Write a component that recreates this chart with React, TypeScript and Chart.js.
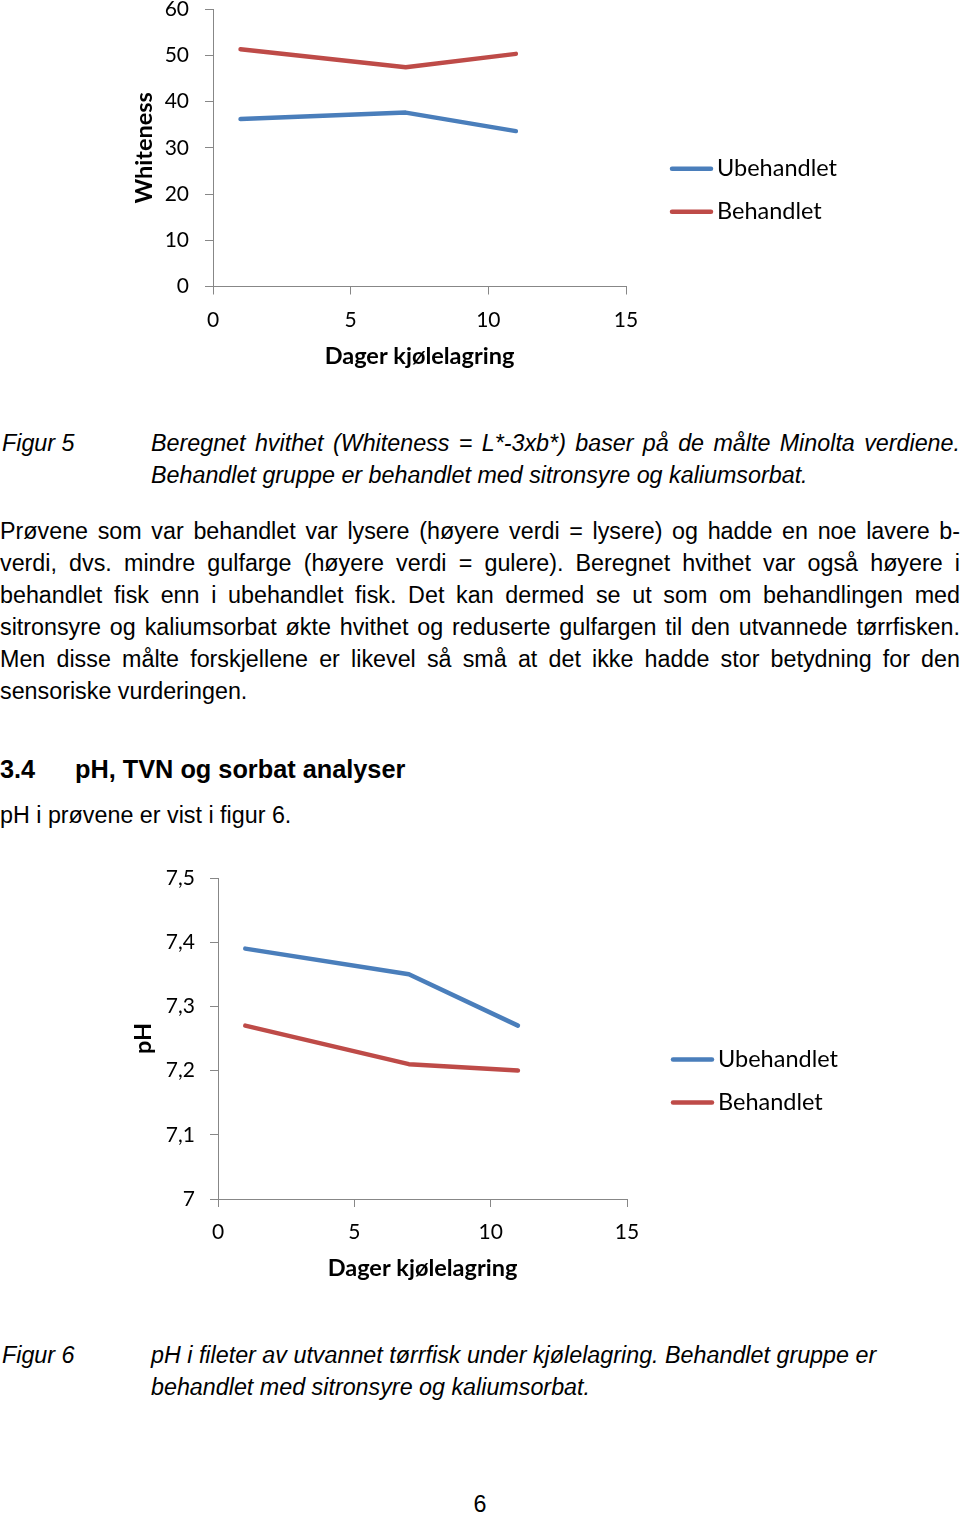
import React, { useEffect, useRef } from "react";
import { Chart, registerables } from "chart.js";

Chart.register(...registerables);

// ---- data ----
const days = [1, 7, 11];
const seriesLabels = ["Ubehandlet", "Behandlet"];
const seriesColors = ["#4A7EBB", "#BE4B48"];
const whitenessUbehandlet = [36.2, 37.6, 33.6];
const whitenessBehandlet = [51.3, 47.4, 50.3];
const phUbehandlet = [7.39, 7.35, 7.27];
const phBehandlet = [7.27, 7.21, 7.2];
const xAxisTitle = "Dager kjølelagring";
const xRange = [0, 15, 5];
const whitenessRange = [0, 60, 10];
const phRange = [7, 7.5, 0.1];

const bodyLines = [
  "Prøvene som var behandlet var lysere (høyere verdi = lysere) og hadde en noe lavere b-",
  "verdi, dvs. mindre gulfarge (høyere verdi = gulere). Beregnet hvithet var også høyere i",
  "behandlet fisk enn i ubehandlet fisk. Det kan dermed se ut som om behandlingen med",
  "sitronsyre og kaliumsorbat økte hvithet og reduserte gulfargen til den utvannede tørrfisken.",
  "Men disse målte forskjellene er likevel så små at det ikke hadde stor betydning for den",
  "sensoriske vurderingen.",
];

const sideLegend = {
  id: "sideLegend",
  afterDraw(chart: any) {
    const { ctx, chartArea } = chart;
    const cy = (chartArea.top + chartArea.bottom) / 2;
    const x0 = chartArea.right + 44;
    chart.data.datasets.forEach((ds: any, i: number) => {
      const y = cy + 21 + i * 43;
      ctx.save();
      ctx.strokeStyle = ds.borderColor;
      ctx.lineWidth = 4.5;
      ctx.lineCap = "round";
      ctx.beginPath();
      ctx.moveTo(x0 + 2, y);
      ctx.lineTo(x0 + 41, y);
      ctx.stroke();
      ctx.fillStyle = "#000";
      ctx.font = "23.5px Lato";
      ctx.textBaseline = "middle";
      ctx.textAlign = "left";
      ctx.fillText(ds.label, x0 + 47, y);
      ctx.restore();
    });
  },
};

type Cfg = {
  height: number;
  plotTop: number;
  plotBottom: number;
  plotLeft: number;
  plotRight: number;
  yRange: number[];
  yTitle: string;
  yTickPad: number;
  yTitleCenter: number;
  series: number[][];
};

function makeConfig(c: Cfg): any {
  const axisColor = "#878787";
  return {
    type: "line",
    data: {
      datasets: c.series.map((vals, i) => ({
        label: seriesLabels[i],
        data: days.map((d, k) => ({ x: d, y: vals[k] })),
        borderColor: seriesColors[i],
        backgroundColor: seriesColors[i],
        borderWidth: 4.5,
        pointRadius: 0,
        borderCapStyle: "round",
        borderJoinStyle: "round",
        tension: 0,
      })),
    },
    plugins: [sideLegend],
    options: {
      animation: false,
      responsive: false,
      devicePixelRatio: 1,
      layout: {
        padding: { left: 0, right: 960 - c.plotRight, top: c.plotTop, bottom: 0 },
      },
      plugins: { legend: { display: false }, tooltip: { enabled: false } },
      scales: {
        x: {
          type: "linear",
          position: "bottom",
          min: xRange[0],
          max: xRange[1],
          afterBuildTicks: (s: any) => {
            const t = [];
            for (let v = xRange[0]; v <= xRange[1]; v += xRange[2]) t.push({ value: v });
            s.ticks = t;
          },
          afterFit: (s: any) => {
            s.height = c.height - c.plotBottom;
            s.paddingLeft = 0;
            s.paddingRight = 0;
            s.paddingTop = 0;
            s.paddingBottom = 0;
          },
          grid: { drawOnChartArea: false, drawTicks: true, tickLength: 8, color: axisColor, lineWidth: 1 },
          border: { display: true, color: axisColor, width: 1 },
          ticks: { color: "#000", font: { family: "Lato", size: 21 }, padding: 13, maxRotation: 0 },
          title: {
            display: true,
            text: xAxisTitle,
            color: "#000",
            font: { family: "Lato", size: 23.5, weight: "bold" },
            padding: { top: 0, bottom: 9 },
          },
        },
        y: {
          type: "linear",
          position: "left",
          min: c.yRange[0],
          max: c.yRange[1],
          afterBuildTicks: (s: any) => {
            const t = [];
            const n = Math.round((c.yRange[1] - c.yRange[0]) / c.yRange[2]);
            for (let k = 0; k <= n; k++) t.push({ value: c.yRange[0] + k * c.yRange[2] });
            s.ticks = t;
          },
          afterFit: (s: any) => {
            s.width = c.plotLeft;
            s.paddingLeft = 0;
            s.paddingRight = 0;
            s.paddingTop = 0;
            s.paddingBottom = 0;
          },
          grid: { drawOnChartArea: false, drawTicks: true, tickLength: 8, color: axisColor, lineWidth: 1 },
          border: { display: true, color: axisColor, width: 1 },
          ticks: {
            color: "#000",
            font: { family: "Lato", size: 21 },
            padding: c.yTickPad,
            callback: (v: any) => String(Number(Number(v).toFixed(1))).replace(".", ","),
          },
          title: {
            display: true,
            text: c.yTitle,
            color: "#000",
            font: { family: "Lato", size: 23.5, weight: "bold" },
            padding: { top: c.yTitleCenter - 14.1, bottom: 0 },
          },
        },
      },
    },
  };
}

function LineChart({ cfg, top }: { cfg: Cfg; top: number }) {
  const ref = useRef<HTMLCanvasElement>(null);
  useEffect(() => {
    if (!ref.current) return;
    const chart = new Chart(ref.current, makeConfig(cfg));
    return () => chart.destroy();
  }, []);
  return (
    <canvas
      ref={ref}
      width={960}
      height={cfg.height}
      style={{ position: "absolute", left: 0, top, width: 960, height: cfg.height, display: "block" }}
    />
  );
}

const textFont = '"Liberation Sans", Arial, Helvetica, sans-serif';

function Line({ top, left = 0, width, children, justify = false, italic = false, bold = false, size = 23.3 }: any) {
  return (
    <div
      style={{
        position: "absolute",
        top,
        left,
        width,
        fontFamily: textFont,
        fontSize: size,
        lineHeight: "32px",
        whiteSpace: "nowrap",
        fontStyle: italic ? "italic" : "normal",
        fontWeight: bold ? "bold" : "normal",
        textAlign: justify ? "justify" : "left",
        textAlignLast: justify ? "justify" : "left",
        color: "#000",
      } as any}
    >
      {children}
    </div>
  );
}

export default function App() {
  const chart1: Cfg = {
    height: 380,
    plotTop: 9,
    plotBottom: 286.5,
    plotLeft: 213,
    plotRight: 626,
    yRange: whitenessRange,
    yTitle: "Whiteness",
    yTickPad: 16,
    yTitleCenter: 144,
    series: [whitenessUbehandlet, whitenessBehandlet],
  };
  const chart2: Cfg = {
    height: 432,
    plotTop: 18,
    plotBottom: 339,
    plotLeft: 218,
    plotRight: 627,
    yRange: phRange,
    yTitle: "pH",
    yTickPad: 15,
    yTitleCenter: 143,
    series: [phUbehandlet, phBehandlet],
  };
  return (
    <div style={{ position: "absolute", left: 0, top: 0, width: 960, height: 1513, background: "#fff", overflow: "hidden" }}>
      <LineChart cfg={chart1} top={0} />
      <Line top={427} left={2} italic>Figur 5</Line>
      <Line top={427} left={151} width={809} italic justify>
        Beregnet hvithet (Whiteness = L*-3xb*) baser på de målte Minolta verdiene.
      </Line>
      <Line top={459} left={151} italic>Behandlet gruppe er behandlet med sitronsyre og kaliumsorbat.</Line>
      {bodyLines.map((l, i) => (
        <Line key={i} top={515 + i * 32} left={0} width={960} justify={i < bodyLines.length - 1}>
          {l}
        </Line>
      ))}
      <Line top={753} left={0} bold size={25.3}>3.4</Line>
      <Line top={753} left={75} bold size={25.3}>pH, TVN og sorbat analyser</Line>
      <Line top={799} left={0}>pH i prøvene er vist i figur 6.</Line>
      <LineChart cfg={chart2} top={860} />
      <Line top={1339} left={2} italic>Figur 6</Line>
      <Line top={1339} left={151} italic>
        pH i fileter av utvannet tørrfisk under kjølelagring. Behandlet gruppe er
      </Line>
      <Line top={1371} left={151} italic>behandlet med sitronsyre og kaliumsorbat.</Line>
      <div
        style={{
          position: "absolute",
          top: 1488,
          left: 0,
          width: 960,
          textAlign: "center",
          fontFamily: textFont,
          fontSize: 23.3,
          lineHeight: "32px",
          color: "#000",
        }}
      >
        6
      </div>
    </div>
  );
}
